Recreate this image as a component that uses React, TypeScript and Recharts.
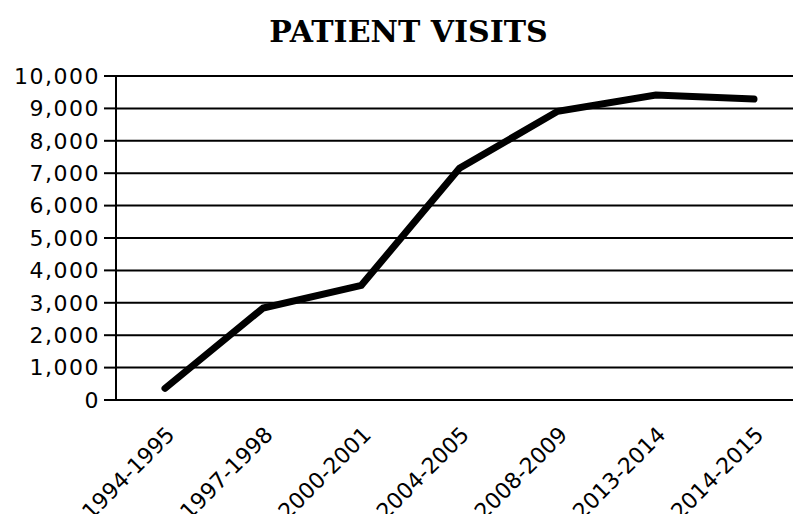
import { LineChart, Line, XAxis, YAxis, CartesianGrid } from "recharts";

const periods = [
  "1994-1995",
  "1997-1998",
  "2000-2001",
  "2004-2005",
  "2008-2009",
  "2013-2014",
  "2014-2015",
];
const visits = [360, 2840, 3540, 7150, 8910, 9410, 9290];
const yTicks = [0, 1000, 2000, 3000, 4000, 5000, 6000, 7000, 8000, 9000, 10000];

const data = periods.map((period, i) => ({ period, visits: visits[i] }));

const FONT = "'DejaVu Sans', Verdana, sans-serif";

// rotated category label, anchored at its end
const PeriodTick = ({ x, y, payload }: any) => (
  <g transform={`translate(${x + 11},${y + 36}) rotate(-45)`}>
    <text textAnchor="end" fontFamily={FONT} fontSize={22} fill="#000">
      {payload.value}
    </text>
  </g>
);

export default function App() {
  return (
    <div
      style={{
        position: "fixed",
        left: 0,
        top: 0,
        width: 793,
        height: 514,
        overflow: "hidden",
        background: "#fff",
      }}
    >
      <div
        style={{
          position: "absolute",
          left: 0,
          top: 17,
          width: 817,
          textAlign: "center",
          fontFamily: "'DejaVu Serif', serif",
          fontWeight: "bold",
          fontSize: 30,
          lineHeight: "30px",
          color: "#000",
        }}
      >
        PATIENT VISITS
      </div>
      <LineChart
        width={803}
        height={514}
        data={data}
        margin={{ top: 76, right: 0, left: 0, bottom: 0 }}
      >
        <CartesianGrid vertical={false} stroke="#000" strokeWidth={2} />
        <XAxis
          dataKey="period"
          height={114}
          interval={0}
          padding={{ left: 49, right: 49 }}
          tickSize={0}
          tickMargin={0}
          tickLine={false}
          axisLine={{ stroke: "#000", strokeWidth: 2 }}
          tick={<PeriodTick />}
        />
        <YAxis
          width={116}
          domain={[0, 10000]}
          ticks={yTicks}
          interval={0}
          tickSize={12}
          tickMargin={4}
          tickLine={{ stroke: "#000", strokeWidth: 2 }}
          axisLine={{ stroke: "#000", strokeWidth: 2 }}
          tickFormatter={(v: number) => v.toLocaleString("en-US")}
          tick={{
            fontFamily: FONT,
            fontSize: 22,
            fill: "#000",
            style: { letterSpacing: "1.5px" },
          }}
        />
        <Line
          type="linear"
          dataKey="visits"
          stroke="#000"
          strokeWidth={7}
          strokeLinecap="round"
          dot={false}
          isAnimationActive={false}
        />
      </LineChart>
    </div>
  );
}
